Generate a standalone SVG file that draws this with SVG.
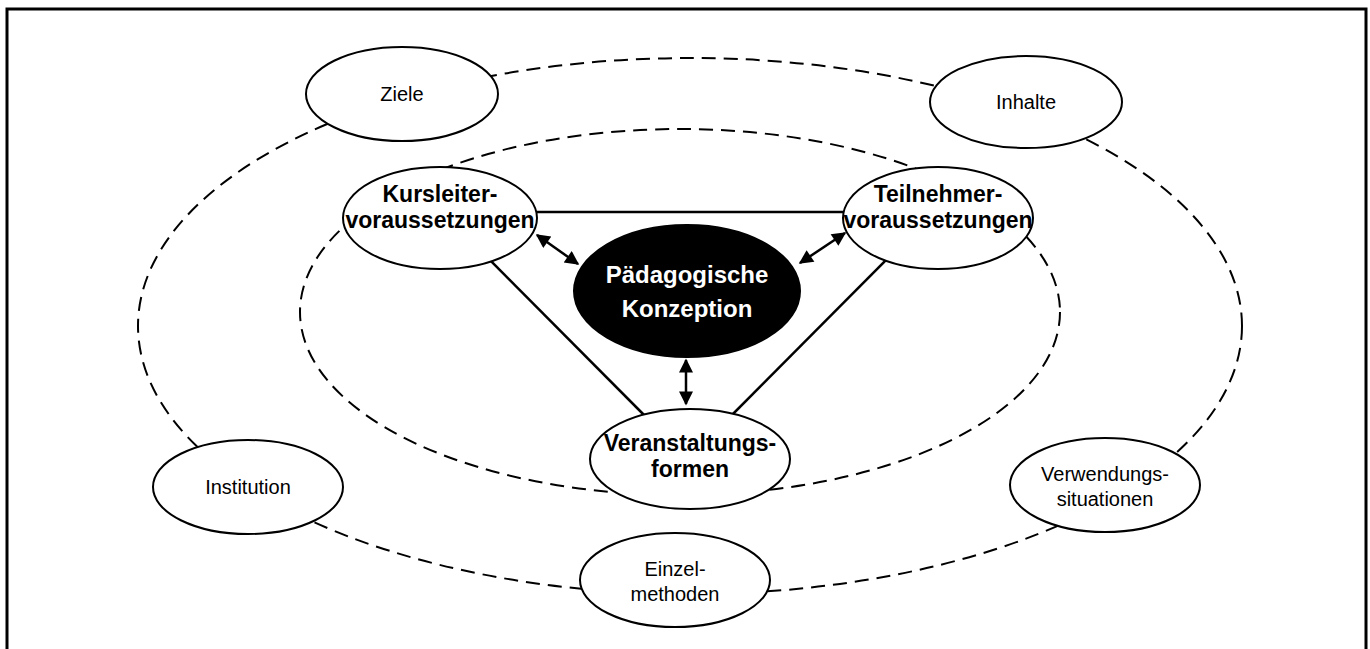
<svg xmlns="http://www.w3.org/2000/svg" width="1370" height="649" viewBox="0 0 1370 649">
<style>
.frame{fill:none;stroke:#000;stroke-width:3}
.ring{fill:none;stroke:#000;stroke-width:2;stroke-dasharray:14 8}
.node{fill:#fff;stroke:#000;stroke-width:2}
.core{fill:#000;stroke:#000;stroke-width:2}
.link{stroke:#000;stroke-width:2.5;fill:none}
.arr{stroke:#000;stroke-width:2.5;fill:none;marker-start:url(#ah);marker-end:url(#ah)}
.t{font-family:"Liberation Sans",Arial,sans-serif;font-size:20px;fill:#000;text-anchor:middle}
.b{font-family:"Liberation Sans",Arial,sans-serif;font-size:23px;font-weight:bold;fill:#000;text-anchor:middle}
.w{font-family:"Liberation Sans",Arial,sans-serif;font-size:24px;font-weight:bold;fill:#fff;text-anchor:middle}
</style>
<defs>
<marker id="ah" viewBox="0 0 10 10" refX="9" refY="5" markerUnits="userSpaceOnUse" markerWidth="16" markerHeight="14" orient="auto-start-reverse">
<path d="M0,0 L10,5 L0,10 z" fill="#000"/>
</marker>
</defs>
<rect class="frame" x="7" y="9" width="1359" height="660"/>
<g id="connectors">
<ellipse class="ring" cx="690" cy="326" rx="552" ry="268"/>
<ellipse class="ring" cx="680" cy="312" rx="380" ry="183"/>
<line class="link" x1="520" y1="212" x2="860" y2="212"/>
<line class="link" x1="478" y1="248" x2="652" y2="423"/>
<line class="link" x1="898" y1="248" x2="724" y2="423"/>
<line class="arr" x1="537" y1="235" x2="578" y2="264"/>
<line class="arr" x1="845" y1="233" x2="800" y2="263"/>
<line class="arr" x1="686" y1="360" x2="686" y2="404"/>
</g>
<g id="ziele"><ellipse class="node" cx="402" cy="94" rx="96" ry="47"/><text class="t" x="402" y="101">Ziele</text></g>
<g id="inhalte"><ellipse class="node" cx="1026" cy="102" rx="96" ry="46"/><text class="t" x="1026" y="109">Inhalte</text></g>
<g id="kursleiter"><ellipse class="node" cx="440" cy="218" rx="97" ry="51"/><text class="b" x="440" y="202">Kursleiter-</text><text class="b" x="440" y="228">voraussetzungen</text></g>
<g id="teilnehmer"><ellipse class="node" cx="938" cy="218" rx="95" ry="51"/><text class="b" x="938" y="202">Teilnehmer-</text><text class="b" x="938" y="228">voraussetzungen</text></g>
<g id="konzeption"><ellipse class="core" cx="687" cy="291" rx="113" ry="66"/><text class="w" x="687" y="283">Pädagogische</text><text class="w" x="687" y="317">Konzeption</text></g>
<g id="veranstaltungsformen"><ellipse class="node" cx="690" cy="459" rx="100" ry="50"/><text class="b" x="690" y="451">Veranstaltungs-</text><text class="b" x="690" y="477">formen</text></g>
<g id="institution"><ellipse class="node" cx="248" cy="487" rx="95" ry="47"/><text class="t" x="248" y="494">Institution</text></g>
<g id="einzelmethoden"><ellipse class="node" cx="675" cy="580" rx="95" ry="47"/><text class="t" x="675" y="576">Einzel-</text><text class="t" x="675" y="601">methoden</text></g>
<g id="verwendungssituationen"><ellipse class="node" cx="1105" cy="485" rx="95" ry="47"/><text class="t" x="1105" y="481">Verwendungs-</text><text class="t" x="1105" y="506">situationen</text></g>
</svg>
